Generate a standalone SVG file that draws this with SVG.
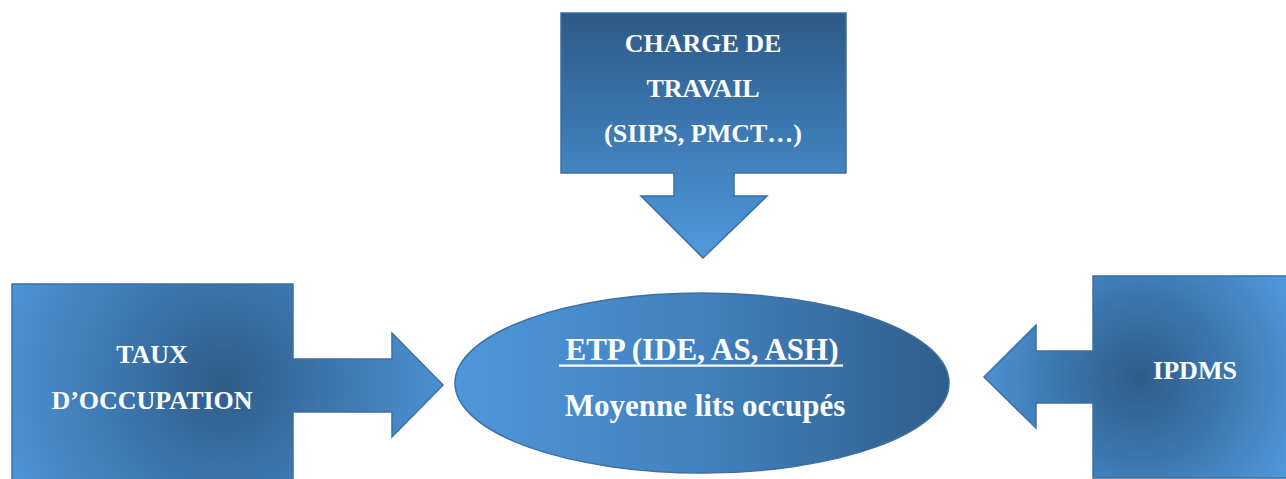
<svg xmlns="http://www.w3.org/2000/svg" width="1286" height="479" viewBox="0 0 1286 479">
  <defs>
    <linearGradient id="gTop" x1="0" y1="13" x2="0" y2="258" gradientUnits="userSpaceOnUse">
      <stop offset="0" stop-color="#2D5A86"/>
      <stop offset="0.55" stop-color="#3F7DB8"/>
      <stop offset="1" stop-color="#4F9ADE"/>
    </linearGradient>
    <linearGradient id="gEllipse" x1="455" y1="0" x2="949" y2="0" gradientUnits="userSpaceOnUse">
      <stop offset="0" stop-color="#4E97DA"/>
      <stop offset="0.5" stop-color="#4281BE"/>
      <stop offset="1" stop-color="#2F5E8B"/>
    </linearGradient>
    <radialGradient id="gLeft" cx="224" cy="381" r="245" gradientUnits="userSpaceOnUse">
      <stop offset="0" stop-color="#2E5C88"/>
      <stop offset="0.45" stop-color="#3D77AF"/>
      <stop offset="1" stop-color="#4E97DA"/>
    </radialGradient>
    <radialGradient id="gRight" cx="1140" cy="378" r="170" gradientUnits="userSpaceOnUse">
      <stop offset="0" stop-color="#2E5C88"/>
      <stop offset="0.5" stop-color="#3D77AF"/>
      <stop offset="1" stop-color="#4E97DA"/>
    </radialGradient>
  </defs>
  <style>
    .shape { stroke: #3E6F9E; stroke-width: 1.5; stroke-linejoin: miter; }
    .lbl { font-family: "Liberation Serif", "Times New Roman", serif; font-weight: bold; fill: #FFFFFF; text-anchor: middle; }
    .small { font-size: 26px; }
    .big { font-size: 31px; }
  </style>

  <!-- Top callout pointing down -->
  <g id="charge-travail">
    <path class="shape" fill="url(#gTop)" d="M561,13 H846 V173 H734 V196 H767 L703,258 L641,196 H674 V173 H561 Z"/>
    <text class="lbl small" x="703" y="52">CHARGE DE</text>
    <text class="lbl small" x="703" y="97">TRAVAIL</text>
    <text class="lbl small" x="703" y="142">(SIIPS, PMCT…)</text>
  </g>

  <!-- Left callout pointing right -->
  <g id="taux-occupation">
    <path class="shape" fill="url(#gLeft)" d="M12,284 H293 V359 H392 V333 L443,385 L392,437 V412 H293 V480 H12 Z"/>
    <text class="lbl small" x="152" y="363">TAUX</text>
    <text class="lbl small" x="152" y="409">D’OCCUPATION</text>
  </g>

  <!-- Right callout pointing left -->
  <g id="ipdms">
    <path class="shape" fill="url(#gRight)" d="M1093,276 H1296 V478 H1093 V403 H1036 V428 L984,377 L1036,325 V351 H1093 Z"/>
    <text class="lbl small" x="1195" y="379">IPDMS</text>
  </g>

  <!-- Central ellipse -->
  <g id="etp">
    <ellipse class="shape" fill="url(#gEllipse)" cx="702" cy="383" rx="247" ry="90"/>
    <text class="lbl big" x="702" y="360">ETP (IDE, AS, ASH)</text>
    <rect x="559" y="364.5" width="284" height="2.2" fill="#FFFFFF"/>
    <text class="lbl big" x="705" y="416">Moyenne lits occupés</text>
  </g>

  <g id="connectors"></g>
</svg>
